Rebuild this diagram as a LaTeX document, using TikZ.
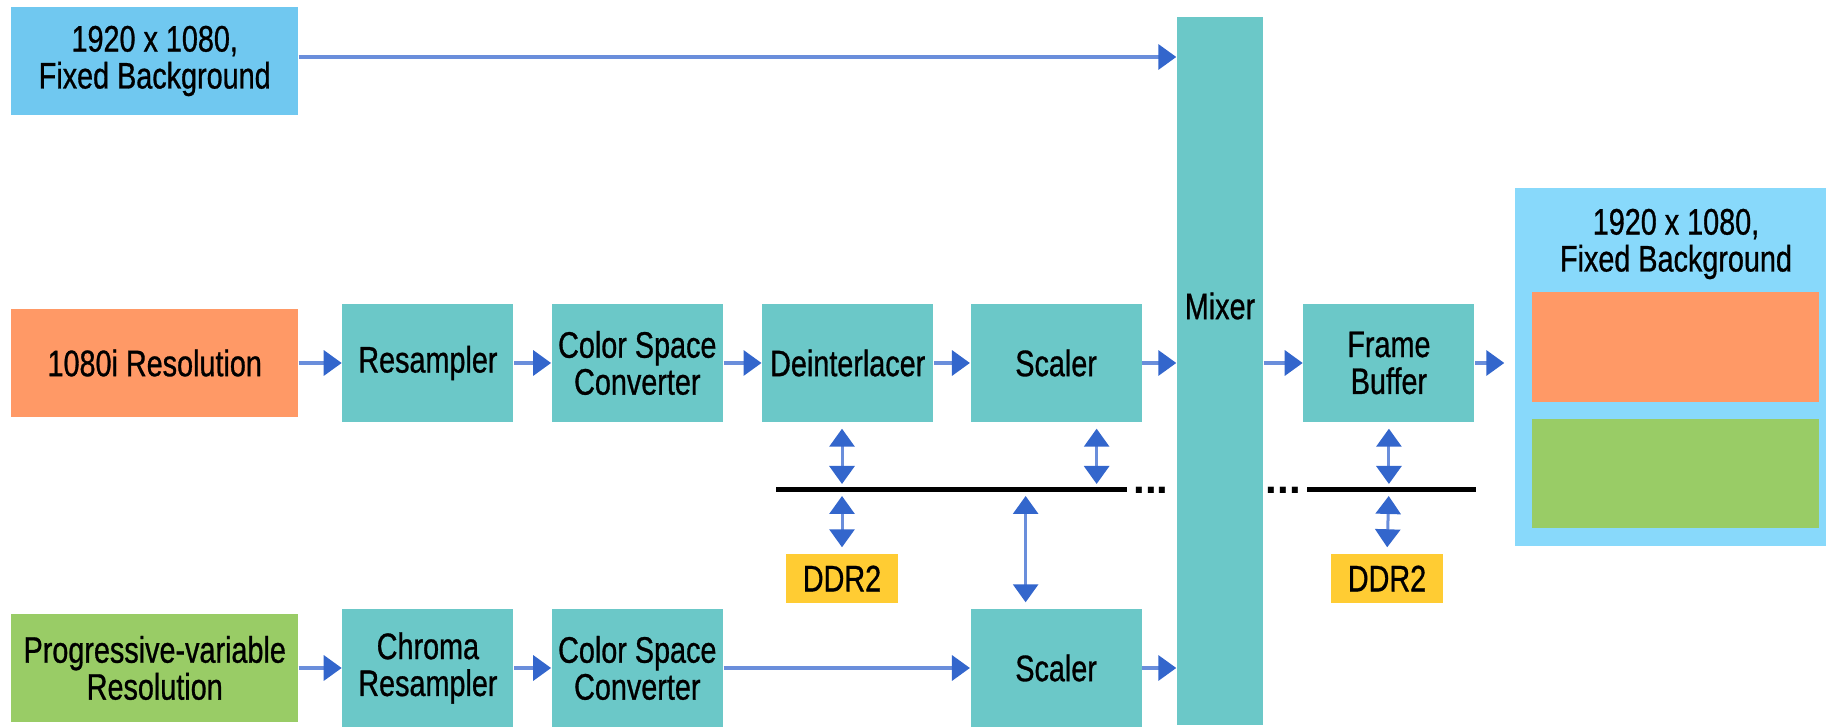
\documentclass[tikz,border=0pt]{standalone}
\usepackage{fontspec}
\setmainfont{Liberation Sans}[FakeStretch=0.78,FakeBold=0.8]
\newfontfamily\dotsfont{Liberation Sans}
\usetikzlibrary{positioning, arrows.meta}
\definecolor{srcblue}{HTML}{70C8F0}
\definecolor{outblue}{HTML}{88D9FB}
\definecolor{ipteal}{HTML}{6BC8C8}
\definecolor{srcorange}{HTML}{FF9966}
\definecolor{srcgreen}{HTML}{99CC66}
\definecolor{memyellow}{HTML}{FFCC33}
\definecolor{linkblue}{HTML}{6A8EDB}
\definecolor{tipblue}{HTML}{3366CC}
\tikzset{>={Triangle[length=1.8mm,width=2.5mm,color=tipblue]},node distance=3.8mm,
  every node/.style={font=\fontsize{10.5}{10.5}\selectfont, inner sep=0pt, align=center},
  block/.style={rectangle, fill=ipteal, minimum width=17.1mm, minimum height=11.8mm},
  source/.style={rectangle, minimum width=28.65mm, minimum height=10.8mm},
  ddr/.style={rectangle, fill=memyellow, minimum width=11.2mm, minimum height=4.9mm},
  flow/.style={->, color=linkblue, line width=0.35mm},
  memlink/.style={<->, color=linkblue, line width=0.3mm, shorten <=0.6mm, shorten >=0.6mm},
  bus/.style={draw=black, line width=0.5mm},
  busdots/.style={font=\dotsfont\fontsize{12}{12}\selectfont\bfseries}
}

\begin{document}
\begin{tikzpicture}[x=1mm,y=1mm]
\useasboundingbox (0,0) rectangle (183.1,72.8);
% inputs
\node[source, fill=srcblue] (bg) at (15.475,66.7) {1920 x 1080,\\Fixed Background};
\node[source, fill=srcorange] (hd) at (15.475,36.5) {1080i Resolution};
\node[source, fill=srcgreen] (pv) at (15.475,6.0) {Progressive-variable\\Resolution};
% upper path
\node[block, right=4.3mm of hd] (res) {Resampler};
\node[block, right=3.7mm of res] (csca) {Color Space\\Converter};
\node[block, right=of csca] (deint) {Deinterlacer};
\node[block, right=3.6mm of deint] (scla) {Scaler};
% lower path
\node[block, right=4.3mm of pv] (chroma) {Chroma\\Resampler};
\node[block, right=3.7mm of chroma] (cscb) {Color Space\\Converter};
\node[block] (sclb) at (scla |- pv) {Scaler};
% mixer, frame buffer, output
\node[block, minimum width=8.6mm, minimum height=70.8mm] (mix) at (122,35.7) {};
\node (mixlabel) at ([yshift=6.5mm]mix.center) {Mixer};
\node[block, anchor=west] (fb) at ([xshift=3.9mm]mix.east |- scla) {Frame\\Buffer};
\node[rectangle, fill=outblue, minimum width=31.1mm, minimum height=35.8mm] (out) at (167.05,36.1) {};
\node[rectangle, fill=srcorange, minimum width=28.7mm, minimum height=11mm] (outa) at (167.55,38.1) {};
\node[rectangle, fill=srcgreen, minimum width=28.7mm, minimum height=10.9mm] (outb) at (167.55,25.45) {};
\node (outtitle) at (167.6,48.4) {1920 x 1080,\\Fixed Background};
% memory
\node[ddr] (ddra) at (84.2,14.95) {DDR2};
\node[ddr] (ddrb) at (138.7,14.95) {DDR2};
\coordinate (busa) at (77.6,23.8);
\coordinate (busb) at (112.7,23.8);
\coordinate (busc) at (130.7,23.8);
\coordinate (busd) at (147.6,23.8);
\draw[bus] (busa) -- (busb);
\draw[bus] (busc) -- (busd);
\node[busdots] (dotsa) at (115.1,23.8) {...};
\node[busdots] (dotsb) at (128.35,23.8) {...};
\coordinate (sclatap) at ([xshift=4.05mm]scla.south);
\coordinate (sclbtap) at ([xshift=-3.05mm]sclb.north);
\coordinate (bgout) at ([yshift=0.4mm]bg.east);

\path[flow]
(bgout) edge (bgout -| mix.west)
(hd) edge (res)
(res) edge (csca)
(csca) edge (deint)
(deint) edge (scla)
(scla) edge (scla -| mix.west)
(mix.east |- fb) edge (fb)
(fb) edge[shorten >=1mm] (fb -| out.west)
(pv) edge (chroma)
(chroma) edge (cscb)
(cscb) edge (sclb)
(sclb) edge (sclb -| mix.west);

\path[memlink]
(ddra |- deint.south) edge (ddra |- busa)
(ddra |- busa) edge (ddra.north)
(sclatap) edge (sclatap |- busa)
(sclbtap |- busa) edge (sclbtap)
(fb.south) edge (fb.south |- busc)
(fb.south |- busc) edge (ddrb.north);

\end{tikzpicture}
\end{document}
